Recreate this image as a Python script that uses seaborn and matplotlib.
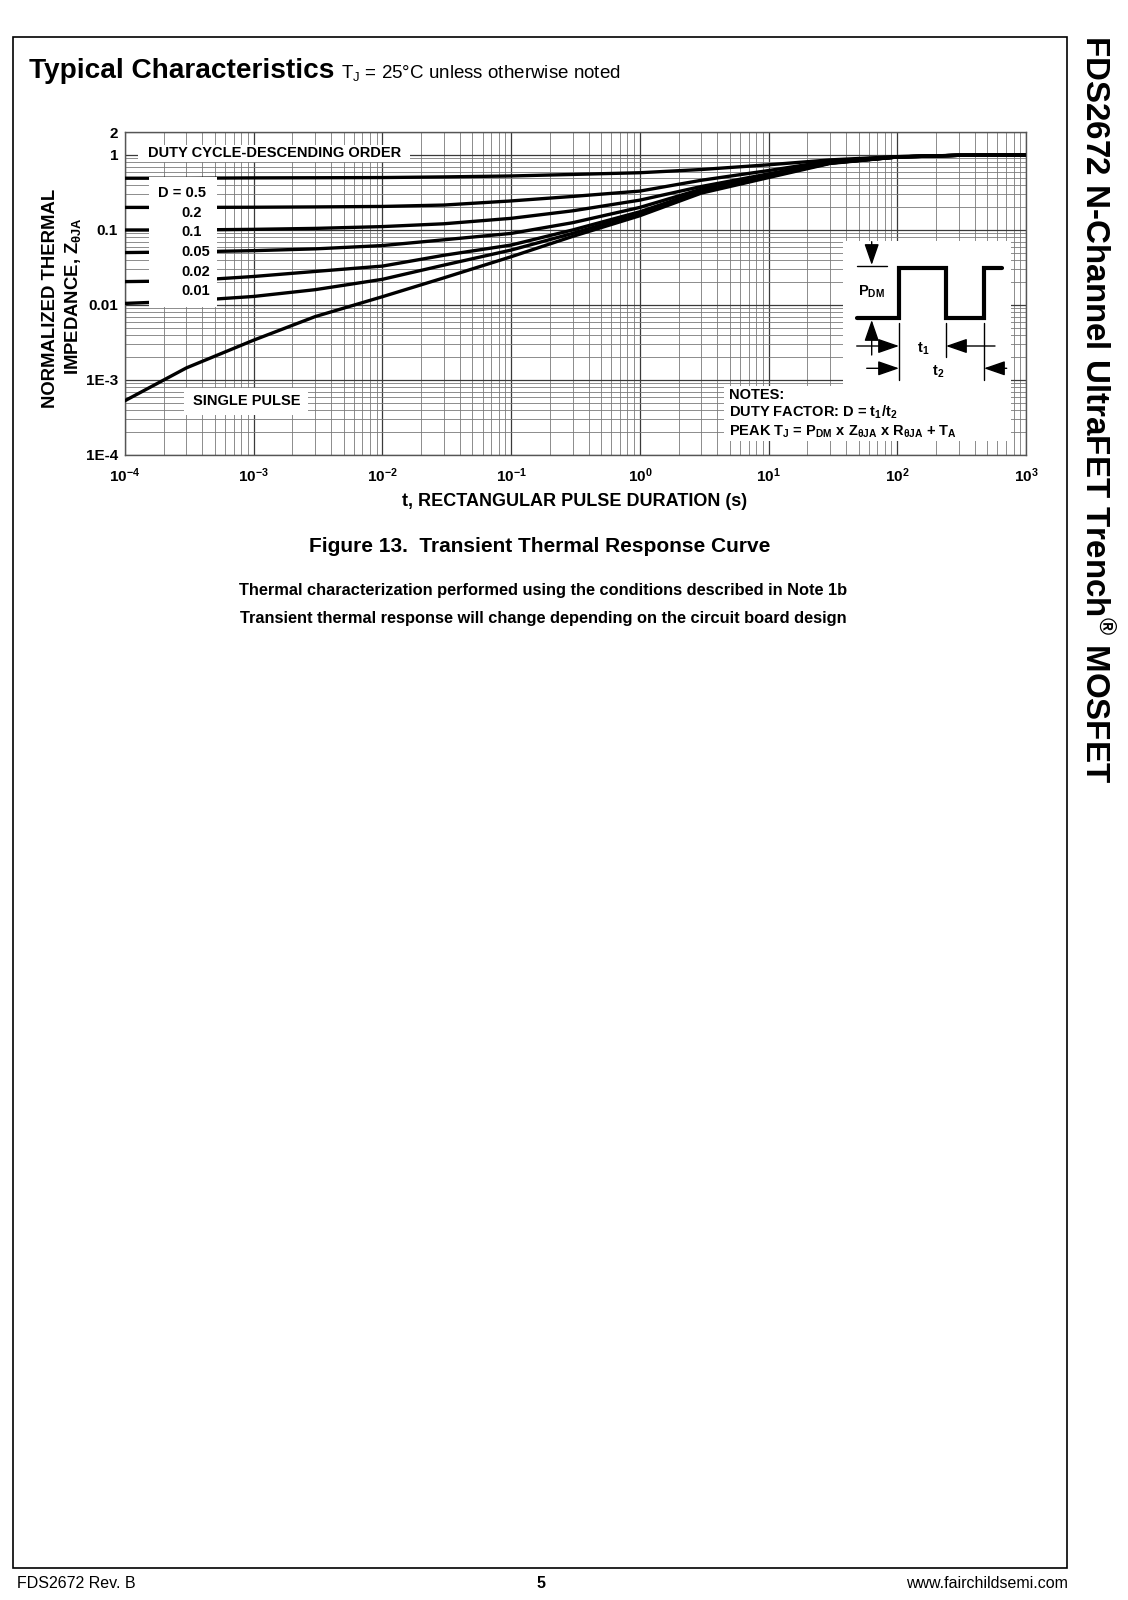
import numpy as np
import pandas as pd
import matplotlib
matplotlib.use('Agg')
import matplotlib.pyplot as plt
import seaborn as sns
from matplotlib.patches import Rectangle, FancyArrowPatch
from matplotlib.ticker import LogLocator, NullFormatter

# ---------------- data ----------------
t_s = [1e-4, 3e-4, 1e-3, 3e-3, 1e-2, 3e-2, 0.1, 0.3, 1, 3, 10, 30, 100, 300, 1000]
z_d050 = [0.49, 0.49, 0.495, 0.497, 0.50, 0.51, 0.525, 0.55, 0.58, 0.64, 0.74, 0.86, 0.95, 0.99, 1.0]
z_d020 = [0.20, 0.20, 0.201, 0.203, 0.206, 0.215, 0.244, 0.28, 0.33, 0.46, 0.62, 0.83, 0.95, 0.99, 1.0]
z_d010 = [0.10, 0.10, 0.102, 0.105, 0.111, 0.121, 0.143, 0.18, 0.25, 0.38, 0.56, 0.80, 0.94, 0.99, 1.0]
z_d005 = [0.050, 0.051, 0.053, 0.056, 0.062, 0.074, 0.090, 0.125, 0.20, 0.35, 0.54, 0.79, 0.94, 0.99, 1.0]
z_d002 = [0.0205, 0.021, 0.024, 0.028, 0.033, 0.046, 0.063, 0.10, 0.175, 0.33, 0.53, 0.78, 0.94, 0.99, 1.0]
z_d001 = [0.0105, 0.0113, 0.013, 0.016, 0.022, 0.034, 0.054, 0.09, 0.165, 0.32, 0.52, 0.78, 0.94, 0.99, 1.0]
z_single = [5.3e-4, 1.45e-3, 3.4e-3, 7.0e-3, 0.0129, 0.023, 0.044, 0.082, 0.155, 0.31, 0.50, 0.77, 0.94, 0.99, 1.0]

curve_names = ['D = 0.5', '0.2', '0.1', '0.05', '0.02', '0.01', 'SINGLE PULSE']
curve_values = [z_d050, z_d020, z_d010, z_d005, z_d002, z_d001, z_single]

x_ticks = [1e-4, 1e-3, 1e-2, 1e-1, 1e0, 1e1, 1e2, 1e3]
x_tick_labels = [r'$10^{-4}$', r'$10^{-3}$', r'$10^{-2}$', r'$10^{-1}$',
                 r'$10^{0}$', r'$10^{1}$', r'$10^{2}$', r'$10^{3}$']
y_ticks = [1e-4, 1e-3, 1e-2, 1e-1, 1, 2]
y_tick_labels = ['1E-4', '1E-3', '0.01', '0.1', '1', '2']

# ---------------- style ----------------
sns.set_theme(style='white')
plt.rcParams['font.family'] = ['Liberation Sans', 'DejaVu Sans']
plt.rcParams['mathtext.default'] = 'regular'
plt.rcParams['axes.unicode_minus'] = False
for k in ['text.color', 'axes.labelcolor', 'xtick.color', 'ytick.color']:
    plt.rcParams[k] = 'black'

W, H = 1128, 1600
fig = plt.figure(figsize=(W / 100, H / 100), dpi=100)
fig.patch.set_facecolor('white')


def fx(x):
    return x / W


def fy(y):
    return 1 - y / H


# ---------------- main chart ----------------
ax = fig.add_axes([fx(125), fy(455), (1026 - 125) / W, (455 - 132.4) / H])
rows = []
for name, vals in zip(curve_names, curve_values):
    for t, z in zip(t_s, vals):
        rows.append({'t': t, 'Z': z, 'curve': name})
df = pd.DataFrame(rows)
sns.lineplot(data=df, x='t', y='Z', hue='curve', hue_order=curve_names,
             palette=['black'] * len(curve_names), estimator=None, errorbar=None,
             legend=False, linewidth=2.4, ax=ax, zorder=3)
ax.set_xscale('log')
ax.set_yscale('log')
ax.set_xlim(1e-4, 1e3)
ax.set_ylim(1e-4, 2)
ax.xaxis.set_minor_locator(LogLocator(base=10, subs=np.arange(2, 10), numticks=100))
ax.yaxis.set_minor_locator(LogLocator(base=10, subs=np.arange(2, 10), numticks=100))
ax.xaxis.set_minor_formatter(NullFormatter())
ax.yaxis.set_minor_formatter(NullFormatter())
ax.set_xticks(x_ticks)
ax.set_xticklabels(x_tick_labels, fontweight='bold', fontsize=11)
ax.set_yticks(y_ticks)
ax.set_yticklabels(y_tick_labels, fontweight='bold', fontsize=11)
ax.tick_params(axis='both', which='both', length=0)
ax.tick_params(axis='x', pad=8)
ax.tick_params(axis='y', pad=5)
ax.grid(which='major', color='#3a3a3a', linewidth=0.9)
ax.grid(which='minor', color='#7a7a7a', linewidth=0.6)
ax.set_axisbelow(True)
for s in ax.spines.values():
    s.set_color('#555555')
    s.set_linewidth(1.0)
ax.set_xlabel('')
ax.set_ylabel('')

# ---------------- overlay in page pixel coordinates ----------------
ov = fig.add_axes([0, 0, 1, 1], zorder=5)
ov.set_xlim(0, W)
ov.set_ylim(H, 0)
ov.axis('off')
ov.patch.set_alpha(0)

# page frame
ov.add_patch(Rectangle((13, 37), 1067 - 13, 1568 - 37, fill=False, ec='black', lw=1.2))

# page headers
ov.text(29, 78, 'Typical Characteristics', fontsize=20.2, fontweight='bold', va='baseline', ha='left')
ov.text(341, 78, 'T$_J$ = 25°C unless otherwise noted', fontsize=13.5, va='baseline', ha='left')
ov.text(1095, 35, 'FDS2672 N-Channel UltraFET Trench$^{®}$ MOSFET', fontsize=23.9,
        fontweight='bold', rotation=-90, ha='center', va='top')

# white boxes inside plot
box_kw = dict(fc='white', ec='none')
ov.add_patch(Rectangle((138, 145), 272, 17, **box_kw))
ov.add_patch(Rectangle((149, 177), 68, 130, **box_kw))
ov.add_patch(Rectangle((184, 388), 124, 27, **box_kw))
ov.add_patch(Rectangle((843, 241), 168, 145, **box_kw))
ov.add_patch(Rectangle((724, 386), 287, 55, **box_kw))

fs_in = 10.5
ov.text(148, 153, 'DUTY CYCLE-DESCENDING ORDER', fontsize=fs_in, fontweight='bold', va='center', ha='left')
legend_y = [193.3, 212.7, 231.7, 251.7, 271.7, 290.7]
ov.text(157.7, legend_y[0], curve_names[0], fontsize=fs_in, fontweight='bold', va='center', ha='left')
for name, yy in zip(curve_names[1:6], legend_y[1:]):
    ov.text(181.7, yy, name, fontsize=fs_in, fontweight='bold', va='center', ha='left')
ov.text(193, 401, curve_names[6], fontsize=fs_in, fontweight='bold', va='center', ha='left')

# pulse diagram
wave_x = [856.7, 899, 899, 946, 946, 984, 984, 1001.7]
wave_y = [317.7, 317.7, 268.3, 268.3, 317.7, 317.7, 268.3, 268.3]
ov.plot(wave_x, wave_y, color='black', lw=3.0, solid_joinstyle='miter')
ov.plot([856.7, 886.7], [266, 266], color='black', lw=1.0)
for xx, y0, y1 in [(899, 323, 380), (946, 323, 357), (984, 323, 380)]:
    ov.plot([xx, xx], [y0, y1], color='black', lw=1.0)


def arrow(p0, p1):
    ov.add_patch(FancyArrowPatch(p0, p1, arrowstyle='-|>,head_length=1.3,head_width=0.45',
                                 mutation_scale=10, lw=1.0, color='black',
                                 shrinkA=0, shrinkB=0))


arrow((871.7, 241.7), (871.7, 265))
arrow((871.7, 355), (871.7, 320))
arrow((856.7, 346), (899, 346))
arrow((995, 346), (946, 346))
arrow((866.7, 368.3), (899, 368.3))
arrow((1006.7, 368.3), (984, 368.3))
ov.text(858, 296, 'P$_{DM}$', fontsize=fs_in, fontweight='bold', va='baseline', ha='left')
ov.text(923, 353, 't$_1$', fontsize=fs_in, fontweight='bold', va='baseline', ha='center')
ov.text(938, 376, 't$_2$', fontsize=fs_in, fontweight='bold', va='baseline', ha='center')
ov.text(729, 399, 'NOTES:', fontsize=fs_in, fontweight='bold', va='baseline', ha='left')
ov.text(729, 417, 'DUTY FACTOR: D = t$_1$/t$_2$', fontsize=fs_in, fontweight='bold', va='baseline', ha='left')
ov.text(729, 436, 'PEAK T$_J$ = P$_{DM}$ x Z$_{θJA}$ x R$_{θJA}$ + T$_A$', fontsize=fs_in,
        fontweight='bold', va='baseline', ha='left')

# axis titles
ov.text(50.7, 298, 'NORMALIZED THERMAL', fontsize=13.3, fontweight='bold', rotation=90,
        ha='center', va='center')
ov.text(73.3, 296, 'IMPEDANCE, Z$_{θJA}$', fontsize=13.3, fontweight='bold', rotation=90,
        ha='center', va='center')
ov.text(575, 502, 't, RECTANGULAR PULSE DURATION (s)', fontsize=13, fontweight='bold',
        ha='center', va='center')

# captions
ov.text(540, 547, 'Figure 13.  Transient Thermal Response Curve', fontsize=15, fontweight='bold',
        ha='center', va='center')
ov.text(543, 591, 'Thermal characterization performed using the conditions described in Note 1b',
        fontsize=11.8, fontweight='bold', ha='center', va='center')
ov.text(543, 618, 'Transient thermal response will change depending on the circuit board design',
        fontsize=11.8, fontweight='bold', ha='center', va='center')

# footer
ov.text(17, 1584, 'FDS2672 Rev. B', fontsize=11.5, ha='left', va='center')
ov.text(541, 1584, '5', fontsize=11.5, fontweight='bold', ha='center', va='center')
ov.text(1068, 1584, 'www.fairchildsemi.com', fontsize=11.5, ha='right', va='center')

fig.savefig('out.png', dpi=100, facecolor='white')
